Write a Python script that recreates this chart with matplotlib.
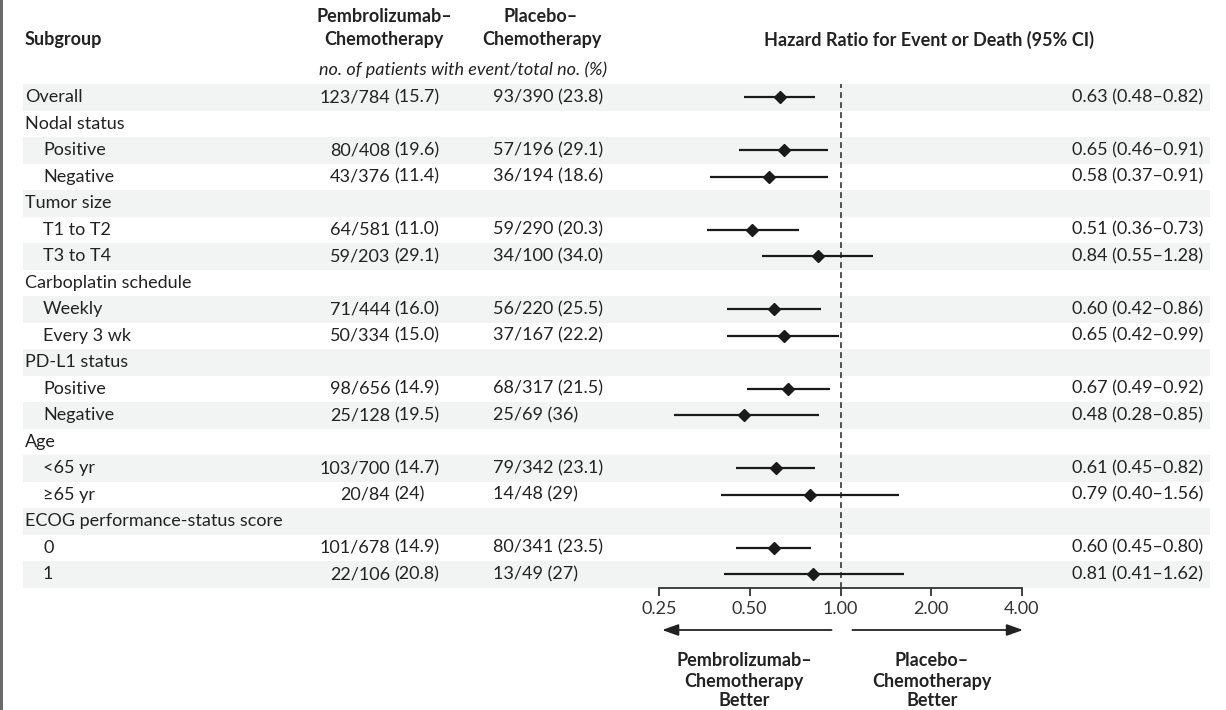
import matplotlib
matplotlib.use('Agg')
import matplotlib.pyplot as plt
from matplotlib.transforms import blended_transform_factory
from matplotlib.patches import Rectangle

plt.rcParams['font.family'] = ['Lato', 'DejaVu Sans']

subgroups = ["Overall", "Nodal status", "Positive", "Negative", "Tumor size",
             "T1 to T2", "T3 to T4", "Carboplatin schedule", "Weekly", "Every 3 wk",
             "PD-L1 status", "Positive", "Negative", "Age", "<65 yr", "\u226565 yr",
             "ECOG performance-status score", "0", "1"]
indent = [0, 0, 1, 1, 0, 1, 1, 0, 1, 1, 0, 1, 1, 0, 1, 1, 0, 1, 1]
pembro = ["123/784", None, "80/408", "43/376", None, "64/581", "59/203", None,
          "71/444", "50/334", None, "98/656", "25/128", None, "103/700", "20/84",
          None, "101/678", "22/106"]
pembroPct = ["15.7", None, "19.6", "11.4", None, "11.0", "29.1", None, "16.0",
             "15.0", None, "14.9", "19.5", None, "14.7", "24", None, "14.9", "20.8"]
placebo = ["93/390", None, "57/196", "36/194", None, "59/290", "34/100", None,
           "56/220", "37/167", None, "68/317", "25/69", None, "79/342", "14/48",
           None, "80/341", "13/49"]
placeboPct = ["23.8", None, "29.1", "18.6", None, "20.3", "34.0", None, "25.5",
              "22.2", None, "21.5", "36", None, "23.1", "29", None, "23.5", "27"]
hr = [0.63, None, 0.65, 0.58, None, 0.51, 0.84, None, 0.60, 0.65, None,
      0.67, 0.48, None, 0.61, 0.79, None, 0.60, 0.81]
lower = [0.48, None, 0.46, 0.37, None, 0.36, 0.55, None, 0.42, 0.42, None,
         0.49, 0.28, None, 0.45, 0.40, None, 0.45, 0.41]
upper = [0.82, None, 0.91, 0.91, None, 0.73, 1.28, None, 0.86, 0.99, None,
         0.92, 0.85, None, 0.82, 1.56, None, 0.80, 1.62]
ticks = [0.25, 0.5, 1.0, 2.0, 4.0]
tickLabels = ["0.25", "0.50", "1.00", "2.00", "4.00"]

W, H = 1226, 710
dpi = 100
textColor = '#222222'
bandColor = '#f2f4f3'
fontSize = 13


def fx(x):
    return x / W


def fy(y):
    return 1 - y / H


fig = plt.figure(figsize=(W / dpi, H / dpi), dpi=dpi)

# forest panel, placed by pixel edges
left, right, top, bottom = 659, 1022, 84, 587.5
ax = fig.add_axes([fx(left), fy(bottom), fx(right) - fx(left), (bottom - top) / H])
ax.set_xscale('log', base=2)
ax.set_xlim(0.25, 4)
nRows = len(subgroups)
ax.set_ylim(nRows - 0.5, -0.5)
ax.patch.set_alpha(0)

rowTrans = blended_transform_factory(fig.transFigure, ax.transData)

# alternating bands, drawn inside the axes so marks stay on top
for i in range(nRows):
    if i % 2 == 0:
        ax.add_patch(Rectangle((fx(23), i - 0.5), fx(1210) - fx(23), 1,
                               transform=rowTrans, color=bandColor,
                               zorder=0, linewidth=0, clip_on=False))

# left edge bar
fig.patches.append(Rectangle((0, 0), fx(3), 1, transform=fig.transFigure,
                             color='#6b6b6b', linewidth=0))

ax.axvline(1.0, color='#333333', linewidth=1.2, dashes=(3.5, 2.5), zorder=1)

for i in range(nRows):
    xText = 43 if indent[i] else 25
    fig.text(fx(xText), i, subgroups[i], transform=rowTrans, ha='left',
             va='center', fontsize=fontSize, color=textColor)
    if pembro[i] is None:
        continue
    fig.text(fx(390), i, pembro[i], transform=rowTrans, ha='right',
             va='center', fontsize=fontSize, color=textColor)
    fig.text(fx(394), i, "(" + pembroPct[i] + ")", transform=rowTrans,
             ha='left', va='center', fontsize=fontSize, color=textColor)
    fig.text(fx(493), i, placebo[i] + " (" + placeboPct[i] + ")",
             transform=rowTrans, ha='left', va='center', fontsize=fontSize,
             color=textColor)
    hrText = "%.2f (%.2f\u2013%.2f)" % (hr[i], lower[i], upper[i])
    fig.text(fx(1203), i, hrText, transform=rowTrans, ha='right',
             va='center', fontsize=fontSize, color=textColor)
    ax.plot([lower[i], upper[i]], [i, i], color='#1a1a1a', linewidth=1.6,
            solid_capstyle='butt', zorder=2)
    ax.plot(hr[i], i, marker='D', markersize=6.5, color='#1a1a1a', zorder=3)

# axis
for side in ['top', 'left', 'right']:
    ax.spines[side].set_visible(False)
ax.spines['bottom'].set_color('#333333')
ax.spines['bottom'].set_linewidth(1.3)
ax.set_yticks([])
ax.set_xticks(ticks)
ax.set_xticklabels(tickLabels)
ax.xaxis.set_minor_locator(matplotlib.ticker.NullLocator())
ax.tick_params(axis='x', direction='out', length=6, width=1.3, color='#333333',
               labelsize=fontSize, labelcolor='#333333', pad=4)

# arrows below axis
arrowStyle = dict(arrowstyle='-|>,head_length=0.7,head_width=0.25',
                  color='#222222', linewidth=1.3, mutation_scale=14,
                  shrinkA=0, shrinkB=0)
ax.annotate("", xy=(0.256, fy(630)), xytext=(0.934, fy(630)),
            xycoords=('data', 'figure fraction'),
            textcoords=('data', 'figure fraction'), arrowprops=arrowStyle)
ax.annotate("", xy=(4.03, fy(630)), xytext=(1.095, fy(630)),
            xycoords=('data', 'figure fraction'),
            textcoords=('data', 'figure fraction'), arrowprops=arrowStyle)

for label, yPos in zip(["Pembrolizumab\u2013", "Chemotherapy", "Better"], [660, 681, 701]):
    fig.text(fx(744), fy(yPos), label, ha='center', va='center',
             fontsize=fontSize, fontweight='bold', color=textColor)
for label, yPos in zip(["Placebo\u2013", "Chemotherapy", "Better"], [660, 681, 701]):
    fig.text(fx(932), fy(yPos), label, ha='center', va='center',
             fontsize=fontSize, fontweight='bold', color=textColor)

# column headers
fig.text(fx(25), fy(40), "Subgroup", ha='left', va='center', fontsize=fontSize,
         fontweight='bold', color=textColor)
fig.text(fx(384), fy(17), "Pembrolizumab\u2013", ha='center', va='center',
         fontsize=fontSize, fontweight='bold', color=textColor)
fig.text(fx(384), fy(40), "Chemotherapy", ha='center', va='center',
         fontsize=fontSize, fontweight='bold', color=textColor)
fig.text(fx(541), fy(17), "Placebo\u2013", ha='center', va='center',
         fontsize=fontSize, fontweight='bold', color=textColor)
fig.text(fx(542), fy(40), "Chemotherapy", ha='center', va='center',
         fontsize=fontSize, fontweight='bold', color=textColor)
fig.text(fx(463), fy(70), "no. of patients with event/total no. (%)",
         ha='center', va='center', fontsize=fontSize, fontstyle='italic',
         color=textColor)
fig.text(fx(929), fy(40), "Hazard Ratio for Event or Death (95% CI)",
         ha='center', va='center', fontsize=fontSize, fontweight='bold',
         color=textColor)

fig.savefig('out.png', dpi=dpi)
